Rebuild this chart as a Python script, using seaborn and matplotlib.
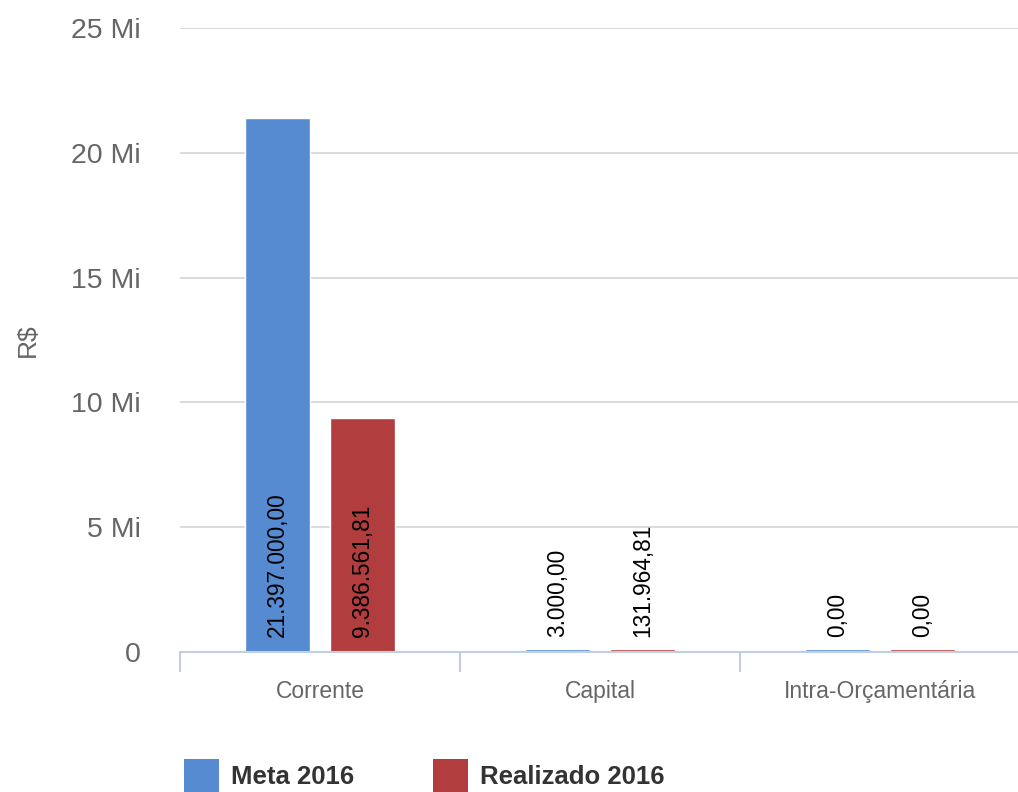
import numpy as np
import pandas as pd
import seaborn as sns
import matplotlib.pyplot as plt
from matplotlib.patches import Patch

# data
categorias = ['Corrente', 'Capital', 'Intra-Orçamentária']
meta_2016 = [21397000.00, 3000.00, 0.00]
realizado_2016 = [9386561.81, 131964.81, 0.00]
series = ['Meta 2016', 'Realizado 2016']
cores = ['#568BD2', '#B13D3F']
y_ticks = [0, 5e6, 10e6, 15e6, 20e6, 25e6]

def fmt_br(v):
    s = f"{v:,.2f}"
    return s.replace(',', 'X').replace('.', ',').replace('X', '.')

df = pd.DataFrame({
    'categoria': categorias * 2,
    'serie': [series[0]] * 3 + [series[1]] * 3,
    'valor': meta_2016 + realizado_2016,
})
# highcharts-like minimum bar length so tiny values stay visible
df['altura'] = np.maximum(df['valor'], 0.13e6)

sns.set_style('white')
plt.rcParams['font.family'] = ['Liberation Sans', 'DejaVu Sans']

fig = plt.figure(figsize=(10.18, 7.92), dpi=100)
ax = fig.add_axes([180 / 1018, 0.1768, 840 / 1018, 0.7878])

sns.barplot(data=df, x='categoria', y='altura', hue='serie', order=categorias,
            hue_order=series, palette=cores, width=0.607, gap=0.224,
            saturation=1, legend=False, ax=ax)

# value labels, rotated, anchored just above the baseline
for cont, vals in zip(ax.containers, [meta_2016, realizado_2016]):
    for bar, v in zip(cont, vals):
        ax.annotate(fmt_br(v), xy=(bar.get_x() + bar.get_width() / 2, 0),
                    xytext=(0, 11), textcoords='offset points',
                    rotation=90, ha='center', va='bottom',
                    fontsize=16.3, color='black')

ax.set_xlim(-0.5, 2.5)
ax.set_ylim(0, 25e6)
ax.set_yticks(y_ticks)
ax.set_yticklabels(['0' if t == 0 else f"{int(t / 1e6)} Mi" for t in y_ticks])
ax.yaxis.grid(True, color='#D8D8D8', linewidth=1.3)
ax.set_axisbelow(True)
ax.tick_params(axis='y', length=0, pad=28, labelsize=20.5, labelcolor='#666666')
ax.tick_params(axis='x', which='major', length=0, pad=20, labelsize=16.5,
               labelcolor='#666666')
ax.set_xticks([-0.5, 0.5, 1.5, 2.5], minor=True)
ax.tick_params(axis='x', which='minor', bottom=True, length=14.5, width=1.5,
               color='#C0D0E0')
ax.set_xlabel('')
ax.set_ylabel('R$', fontsize=19, color='#666666', labelpad=23)

for s in ['top', 'right', 'left']:
    ax.spines[s].set_visible(False)
ax.spines['bottom'].set_color('#C0D0E0')
ax.spines['bottom'].set_linewidth(1.5)

handles = [Patch(facecolor=c, edgecolor='none', label=s) for s, c in zip(series, cores)]
leg = fig.legend(handles=handles, loc='lower left', bbox_to_anchor=(171 / 1018, -0.018),
                 ncol=2, frameon=False, borderpad=0, handlelength=1.36,
                 handleheight=1.7, handletextpad=0.47, columnspacing=3.07,
                 prop={'size': 18.5, 'weight': 'bold'})
for t in leg.get_texts():
    t.set_color('#333333')

fig.savefig('out.png', dpi=100)
